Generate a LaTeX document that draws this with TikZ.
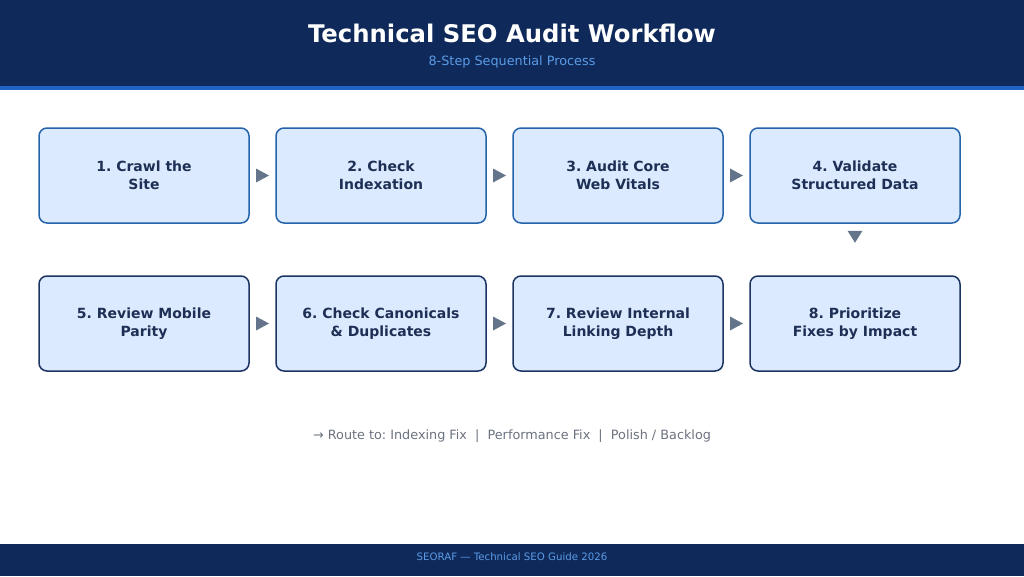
\documentclass[tikz,border=0pt]{standalone}
\usepackage{fontspec}
\setmainfont{DejaVu Sans}
\frenchspacing
\usetikzlibrary{positioning,calc}
\definecolor{headnavy}{HTML}{0F2A5A}
\definecolor{stripeblue}{HTML}{1F63C4}
\definecolor{subblue}{HTML}{5B9BE6}
\definecolor{stepfill}{HTML}{DBEAFE}
\definecolor{toprowline}{HTML}{2563AB}
\definecolor{bottomrowline}{HTML}{1B3461}
\definecolor{steptext}{HTML}{1E2F55}
\definecolor{markgray}{HTML}{64748B}
\definecolor{routegray}{HTML}{6B7280}
\newcommand{\AuditTitleFont}{\fontsize{24.3pt}{28pt}\selectfont\bfseries}
\newcommand{\AuditStepFont}{\fontsize{14pt}{18pt}\selectfont\bfseries}
\newcommand{\AuditNoteFont}{\fontsize{12.8pt}{15pt}\selectfont}

\begin{document}
\begin{tikzpicture}[x=1pt,y=-1pt]
    \tikzset{
        audit step/.style={fill=stepfill, line width=1.5pt, rounded corners=8pt,
            minimum width=210pt, minimum height=95pt, align=center,
            text=steptext, font=\AuditStepFont, inner sep=0pt},
        audit step top/.style={audit step, draw=toprowline},
        audit step bottom/.style={audit step, draw=bottomrowline},
        audit mark/.style={fill=markgray, draw=none}
    }
    \useasboundingbox (0,0) rectangle (1024,576);
    % header and footer bands
    \fill[headnavy] (0,0) rectangle (1024,86);
    \fill[stripeblue] (0,86) rectangle (1024,90);
    \fill[headnavy] (0,544) rectangle (1024,576);
    \node[text=white, font=\AuditTitleFont] (audit-title) at (512,33)
        {Technical SEO Audit Workflow};
    \node[text=subblue, font=\fontsize{12.8pt}{15pt}\selectfont] (audit-subtitle) at (512,62)
        {8-Step Sequential Process};
    \node[text=subblue, font=\fontsize{10.2pt}{12pt}\selectfont] (audit-footer) at (512,557)
        {SEORAF — Technical SEO Guide 2026};

    % first row, left to right
    \foreach \step/\txt [count=\col] in {1/{1. Crawl the\\Site}, 2/{2. Check\\Indexation},
        3/{3. Audit Core\\Web Vitals}, 4/{4. Validate\\Structured Data}} {
        \pgfmathsetmacro{\x}{144+(\col-1)*237}
        \node[audit step top] (step-\step) at (\x,175.5) {\txt};
    }
    % second row, left to right
    \foreach \step/\txt [count=\col] in {5/{5. Review Mobile\\Parity}, 6/{6. Check Canonicals\\\& Duplicates},
        7/{7. Review Internal\\Linking Depth}, 8/{8. Prioritize\\Fixes by Impact}} {
        \pgfmathsetmacro{\x}{144+(\col-1)*237}
        \node[audit step bottom] (step-\step) at (\x,323.5) {\txt};
    }

    % triangle marks between steps
    \foreach \from/\to in {1/2,2/3,3/4,5/6,6/7,7/8} {
        \coordinate (mark-\from) at ($(step-\from.east)!0.5!(step-\to.west)$);
        \fill[audit mark] ($(mark-\from)+(-6.5,-7)$) -- ($(mark-\from)+(6.5,0)$)
            -- ($(mark-\from)+(-6.5,7)$) -- cycle;
    }
    \coordinate (mark-4) at ($(step-4.south)+(0,13)$);
    \fill[audit mark] ($(mark-4)+(-7.5,-6)$) -- ($(mark-4)+(7.5,-6)$)
        -- ($(mark-4)+(0,6)$) -- cycle;

    \node[text=routegray, font=\AuditNoteFont] (route-note) at (512,436)
        {→ Route to: Indexing Fix \ | \ Performance Fix \ | \ Polish / Backlog};
\end{tikzpicture}
\end{document}
